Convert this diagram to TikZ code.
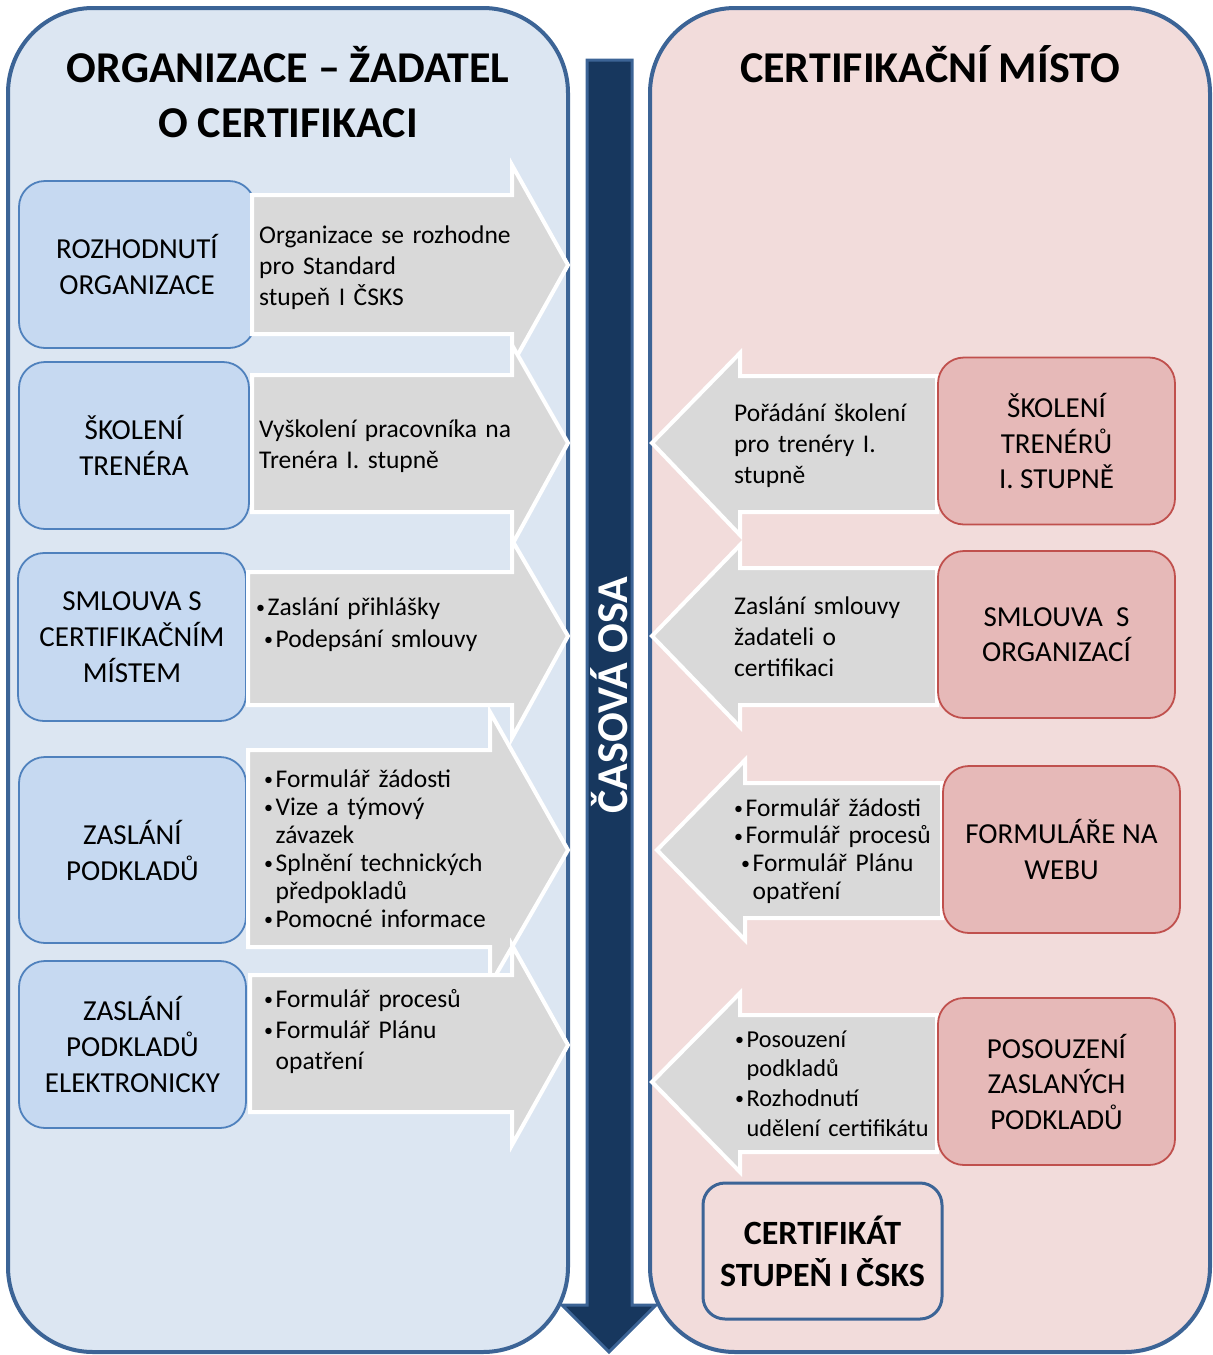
\documentclass[tikz,border=0pt]{standalone}
\usepackage{fontspec}
\setmainfont{Carlito}
\definecolor{panelB}{HTML}{DCE6F2}
\definecolor{panelR}{HTML}{F2DCDB}
\definecolor{edge}{HTML}{3C6496}
\definecolor{boxB}{HTML}{C6D9F1}
\definecolor{boxBe}{HTML}{4F81BD}
\definecolor{boxR}{HTML}{E6B9B8}
\definecolor{boxRe}{HTML}{C0504D}
\definecolor{grayA}{HTML}{D9D9D9}
\definecolor{navy}{HTML}{17375E}
\newcommand\bul{\makebox[11.5pt][l]{\raisebox{1.5pt}{\fontsize{18}{18}\selectfont •}}}
\newcommand\ind{\hspace*{11.5pt}}
\tikzset{
 panel/.style={line width=4pt, draw=edge, rounded corners=85pt},
 bluebox/.style={draw=boxBe, fill=boxB, line width=1.8pt, rounded corners=26pt, align=center,
   font=\fontsize{29}{36}\selectfont, inner sep=0pt},
 redbox/.style={draw=boxRe, fill=boxR, line width=1.8pt, rounded corners=26pt, align=center,
   font=\fontsize{29}{35.5}\selectfont, inner sep=0pt},
 certbox/.style={draw=edge, fill=panelR, line width=3pt, rounded corners=22pt, align=center,
   font=\bfseries\fontsize{34}{42}\selectfont, inner sep=0pt},
 garrow/.style={fill=grayA, draw=white, line width=4pt, line join=miter},
 atext/.style={anchor=base west, align=left, text width=320pt, inner sep=0pt,
   font=\fontsize{25.5}{31}\selectfont},
 title/.style={anchor=base, inner sep=0pt, font=\bfseries\fontsize{44}{55}\selectfont},
}
\begin{document}
\begin{tikzpicture}[x=1pt,y=-1pt]
\useasboundingbox (0,0) rectangle (1213,1355);
% panels
\draw[panel, fill=panelB] (8,8) rectangle (568,1352);
\draw[panel, fill=panelR] (650,8) rectangle (1210,1352);
% time axis
\draw[fill=navy, draw=edge, line width=3pt, line join=miter]
  (587,60) -- (632,60) -- (632,1305) -- (656,1305) -- (609,1352) -- (562,1305) -- (587,1305) -- cycle;
\node[rotate=90, text=white, font=\bfseries\fontsize{44}{50}\selectfont] (osa) at (609,695) {ČASOVÁ OSA};
% titles
\node[title] (tl1) at (288,82) {ORGANIZACE – ŽADATEL};
\node[title] (tl2) at (288,137) {O CERTIFIKACI};
\node[title] (tr1) at (930,82) {CERTIFIKAČNÍ MÍSTO};
% blue boxes
\node[bluebox, minimum width=236pt, minimum height=167pt] (b1) at (137,264.5) {ROZHODNUTÍ\\ORGANIZACE};
\node[bluebox, minimum width=230pt, minimum height=167pt] (b2) at (134,445.5) {ŠKOLENÍ\\TRENÉRA};
\node[bluebox, minimum width=228pt, minimum height=168pt] (b3) at (132,637) {SMLOUVA S\\CERTIFIKAČNÍM\\MÍSTEM};
\node[bluebox, minimum width=227pt, minimum height=186pt] (b4) at (132.5,850) {ZASLÁNÍ\\PODKLADŮ};
\node[bluebox, minimum width=227pt, minimum height=167pt] (b5) at (132.5,1044.5) {ZASLÁNÍ\\PODKLADŮ\\ELEKTRONICKY};
% left arrows
\draw[garrow] (252,195) -- (512,195) -- (512,165) -- (568,265) -- (512,365) -- (512,334) -- (252,334) -- cycle;
\draw[garrow] (252,375) -- (512,375) -- (512,345) -- (568,443) -- (512,545) -- (512,512) -- (252,512) -- cycle;
\draw[garrow] (248,572) -- (512,572) -- (512,540) -- (568,636) -- (512,738) -- (512,705) -- (248,705) -- cycle;
\draw[garrow] (248,750) -- (490,750) -- (490,712) -- (568,850) -- (490,985) -- (490,947) -- (248,947) -- cycle;
\draw[garrow] (250,975) -- (512,975) -- (512,945) -- (568,1045) -- (512,1145) -- (512,1112) -- (250,1112) -- cycle;
% right arrows
\draw[garrow] (937,376) -- (740,376) -- (740,353) -- (652,443) -- (740,535) -- (740,512) -- (937,512) -- cycle;
\draw[garrow] (937,568) -- (740,568) -- (740,545) -- (652,636) -- (740,727) -- (740,705) -- (937,705) -- cycle;
\draw[garrow] (942,783) -- (745,783) -- (745,760) -- (657,850) -- (745,940) -- (745,918) -- (942,918) -- cycle;
\draw[garrow] (937,1015) -- (740,1015) -- (740,993) -- (652,1082) -- (740,1172) -- (740,1152) -- (937,1152) -- cycle;
% red boxes
\node[redbox, minimum width=237pt, minimum height=167pt] (r1) at (1056.5,441) {ŠKOLENÍ\\TRENÉRŮ\\I. STUPNĚ};
\node[redbox, minimum width=237pt, minimum height=167pt] (r2) at (1056.5,634.5) {SMLOUVA~~S\\ORGANIZACÍ};
\node[redbox, minimum width=237pt, minimum height=167pt] (r3) at (1061.5,849.5) {FORMULÁŘE NA\\WEBU};
\node[redbox, minimum width=237pt, minimum height=167pt] (r4) at (1056.5,1081.5) {POSOUZENÍ\\ZASLANÝCH\\PODKLADŮ};
% certificate
\node[certbox, minimum width=239pt, minimum height=136pt] (cert) at (822.5,1251) {CERTIFIKÁT\\STUPEŇ I ČSKS};
% left arrow texts
\node[atext] (a1) at (259,243) {Organizace se rozhodne\\pro Standard\\stupeň I ČSKS};
\node[atext] (a2) at (259,437) {Vyškolení pracovníka na\\Trenéra I. stupně};
\node[atext, font=\fontsize{25.5}{32}\selectfont] (a3) at (256,615) {\bul Zaslání přihlášky\\\hspace*{8pt}\bul Podepsání smlouvy};
\node[atext, font=\fontsize{25.5}{28}\selectfont] (a4) at (264,787) {\bul Formulář žádosti\\\bul Vize a týmový\\\ind závazek\\\bul Splnění technických\\\ind předpokladů\\\bul Pomocné informace};
\node[atext] (a5) at (264,1007) {\bul Formulář procesů\\\bul Formulář Plánu\\\ind opatření};
% right arrow texts
\node[atext] (c1) at (734,421) {Pořádání školení\\pro trenéry I.\\stupně};
\node[atext] (c2) at (734,614) {Zaslání smlouvy\\žadateli o\\certifikaci};
\node[atext, font=\fontsize{25.5}{27.7}\selectfont] (c3) at (734,816) {\bul Formulář žádosti\\\bul Formulář procesů\\\hspace*{7pt}\bul Formulář Plánu\\\hspace*{18.5pt}opatření};
\node[atext, font=\fontsize{24.3}{29.7}\selectfont] (c4) at (735,1047) {\bul Posouzení\\\ind podkladů\\\bul Rozhodnutí\\\ind udělení certifikátu};
\end{tikzpicture}
\end{document}
